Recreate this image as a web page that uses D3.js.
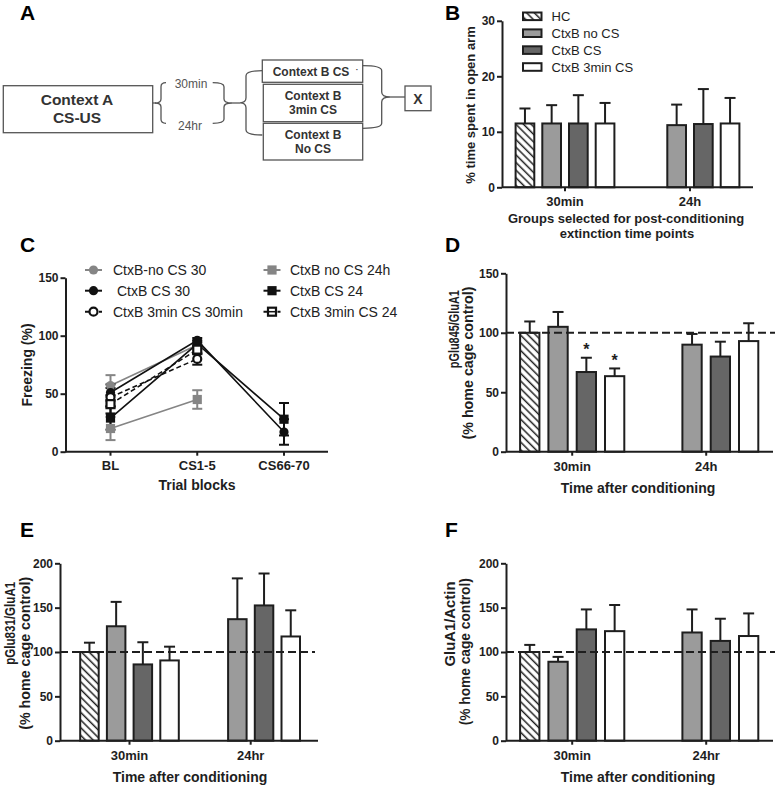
<!DOCTYPE html>
<html><head><meta charset="utf-8">
<script src="https://cdn.jsdelivr.net/npm/d3@7"></script>
<style>
body{margin:0;background:#fff}
svg{display:block}
text{font-family:"Liberation Sans",Arial,Helvetica,sans-serif}
</style>
</head><body>
<svg id="fig" width="775" height="785"></svg>
<script>
// ---------------- DATA ----------------
const seriesNames = ["HC", "CtxB no CS", "CtxB CS", "CtxB 3min CS"];

// Panel B: % time spent in open arm
const groupsB = ["30min", "24h"];
const openArmMean = [[11.5, 11.5, 11.5, 11.5], [null, 11.2, 11.4, 11.5]];
const openArmSem  = [[2.7, 3.3, 5.1, 3.7], [null, 3.7, 6.3, 4.6]];

// Panel C: freezing over trial blocks
const trialBlocks = ["BL", "CS1-5", "CS66-70"];
const freezeNames = ["CtxB-no CS 30", " CtxB CS 30", "CtxB 3min CS 30min", "CtxB no CS 24h", "CtxB CS 24", "CtxB 3min CS 24"];
const freezeNoCS30  = [57, 92, null];
const freezeCS30    = [51, 96, 17];
const freeze3min30  = [47, 80, null];
const freezeNoCS24  = [20, 45, null];
const freezeCS24    = [29, 93, 28];
const freeze3min24  = [41, 88, null];
const semNoCS30 = [9, 3, null];
const semCS30   = [7, 2, 11];
const sem3min30 = [8, 5, null];
const semNoCS24 = [10, 8, null];
const semCS24   = [10, 3, 14];
const sem3min24 = [8, 4, null];

// Panel D: pGlu845/GluA1
const groupsD = ["30min", "24h"];
const pGlu845Mean = [[100, 105, 67, 63.5], [null, 90, 80, 93]];
const pGlu845Sem  = [[9.5, 12.5, 12, 6.5], [null, 9, 12.5, 15]];
const pGlu845Stars = [[false, false, true, true], [false, false, false, false]];

// Panel E: pGlu831/GluA1
const groupsE = ["30min", "24hr"];
const pGlu831Mean = [[100, 129, 86, 90.5], [null, 137, 152.5, 117.5]];
const pGlu831Sem  = [[10.5, 27.5, 25, 15.5], [null, 46, 36, 29.5]];

// Panel F: GluA1/Actin
const groupsF = ["30min", "24hr"];
const gluA1Mean = [[100, 89, 125.5, 123.5], [null, 122, 112.5, 118]];
const gluA1Sem  = [[8, 5.5, 22.5, 29.5], [null, 26, 25, 25.5]];

// ---------------- DRAW ----------------
const svg = d3.select("#fig");
const INK = "#1e1e1e";

const defs = svg.append("defs");
const pat = defs.append("pattern").attr("id", "hatch").attr("patternUnits", "userSpaceOnUse")
  .attr("width", 5.4).attr("height", 5.4).attr("patternTransform", "rotate(-45)");
pat.append("rect").attr("width", 5.4).attr("height", 5.4).attr("fill", "#fff");
pat.append("line").attr("x1", 1.5).attr("y1", 0).attr("x2", 1.5).attr("y2", 5.4)
  .attr("stroke", INK).attr("stroke-width", 1.5);

const fillFor = {"HC": "url(#hatch)", "CtxB no CS": "#9b9b9b", "CtxB CS": "#666666", "CtxB 3min CS": "#ffffff"};

function txt(g, x, y, s, size, opts = {}) {
  const t = g.append("text").attr("x", x).attr("y", y)
    .attr("text-anchor", opts.anchor || "middle")
    .attr("dominant-baseline", opts.baseline || "central")
    .style("font-size", size + "px")
    .style("font-weight", opts.weight || "bold")
    .attr("fill", opts.fill || INK)
    .text(s);
  if (opts.pre) t.attr("xml:space", "preserve").style("white-space", "pre");
  return t;
}
function vtxt(g, x, y, s, size, len) {
  const t = g.append("text").attr("transform", `translate(${x},${y}) rotate(-90)`)
    .attr("text-anchor", "middle").attr("dominant-baseline", "central")
    .style("font-size", size + "px").style("font-weight", "bold").attr("fill", INK).text(s);
  if (len) t.attr("textLength", len).attr("lengthAdjust", "spacingAndGlyphs");
  return t;
}
function styleYAxis(ax) {
  ax.select(".domain").attr("stroke", INK).attr("stroke-width", 2);
  ax.selectAll(".tick line").attr("stroke", INK).attr("stroke-width", 2);
  ax.selectAll(".tick text").style("font-size", "12px").style("font-weight", "bold").attr("fill", INK)
    .style("font-family", '"Liberation Sans",Arial,sans-serif');
}

// panel letters
[["A", 20, 20], ["B", 445, 20], ["C", 20, 252], ["D", 445, 252], ["E", 20, 537], ["F", 445, 537]]
  .forEach(([l, x, y]) => txt(svg, x, y, l, 21, {anchor: "start", baseline: "alphabetic", fill: "#000"}));

// ---------- Panel A: diagram ----------
(function () {
  const g = svg.append("g");
  const ST = "#555", SW = 1.3;
  function box(x0, y0, x1, y1) {
    g.append("rect").attr("x", x0).attr("y", y0).attr("width", x1 - x0).attr("height", y1 - y0)
      .attr("fill", "#fff").attr("stroke", ST).attr("stroke-width", SW);
  }
  function brace(xEnd, xV, xTip, yT, yB, r) {
    const ym = (yT + yB) / 2;
    g.append("path").attr("fill", "none").attr("stroke", ST).attr("stroke-width", SW)
      .attr("d", `M${xEnd},${yT} Q${xV},${yT} ${xV},${yT + r} V${ym - r} Q${xV},${ym} ${xTip},${ym} Q${xV},${ym} ${xV},${ym + r} V${yB - r} Q${xV},${yB} ${xEnd},${yB}`);
  }
  function line(x0, y0, x1, y1) {
    g.append("line").attr("x1", x0).attr("y1", y0).attr("x2", x1).attr("y2", y1)
      .attr("stroke", ST).attr("stroke-width", SW);
  }
  box(3.3, 85.7, 152.7, 132.7);
  txt(g, 77, 99.5, "Context A", 15.5, {fill: "#333"});
  txt(g, 77, 117.5, "CS-US", 15.5, {fill: "#333"});
  line(152.7, 103, 156, 103);
  brace(166, 161, 155, 82.7, 123.3, 4);
  txt(g, 191, 83.5, "30min", 12, {weight: "normal", fill: "#555"});
  txt(g, 190, 125.5, "24hr", 12, {weight: "normal", fill: "#555"});
  brace(212.7, 224, 232, 82.7, 123.3, 4);
  line(232, 103, 240, 103);
  brace(262.3, 246, 240, 70.7, 135, 5);
  box(262.3, 60, 362.7, 82.3);
  box(263.3, 84.3, 362.7, 121.7);
  box(263.3, 123.3, 362.7, 160);
  txt(g, 311, 71.5, "Context B CS", 12, {fill: "#333"});
  txt(g, 357, 69, "·", 8, {fill: "#333"});
  txt(g, 313, 96, "Context B", 12, {fill: "#333"});
  txt(g, 313, 110, "3min CS", 12, {fill: "#333"});
  txt(g, 313, 135, "Context B", 12, {fill: "#333"});
  txt(g, 313, 148.5, "No CS", 12, {fill: "#333"});
  brace(362.7, 381.7, 390, 65.7, 128.3, 5);
  line(390, 97, 405, 97);
  box(405, 86, 431, 110.7);
  txt(g, 418, 98.5, "X", 14, {weight: "600", fill: "#333"});
})();

// ---------- generic bar panel ----------
function barPanel(o) {
  const g = svg.append("g");
  const y = d3.scaleLinear().domain([0, o.yMax]).range([o.yBottom, o.yTop]);
  const xg = d3.scalePoint().domain(o.groups).range(o.centers);
  const pin = 1 - o.bw / o.pitch;
  const xs = d3.scaleBand().domain(seriesNames).range([-2 * o.pitch, 2 * o.pitch])
    .paddingInner(pin).paddingOuter(pin / 2);
  const rows = [];
  o.groups.forEach((grp, gi) => o.values[gi].forEach((v, si) => {
    if (v != null) rows.push({grp, s: seriesNames[si], v, e: o.errors[gi][si],
      star: o.stars ? o.stars[gi][si] : false});
  }));
  const bx = d => xg(d.grp) + xs(d.s);
  const cx = d => bx(d) + xs.bandwidth() / 2;

  const eb = g.append("g").attr("stroke", INK).attr("stroke-width", 2);
  eb.selectAll("line.v").data(rows).join("line")
    .attr("x1", cx).attr("x2", cx).attr("y1", d => y(d.v)).attr("y2", d => y(d.v + d.e));
  eb.selectAll("line.c").data(rows).join("line")
    .attr("x1", d => cx(d) - 5.5).attr("x2", d => cx(d) + 5.5)
    .attr("y1", d => y(d.v + d.e)).attr("y2", d => y(d.v + d.e));
  g.append("g").selectAll("rect").data(rows).join("rect")
    .attr("x", bx).attr("width", xs.bandwidth())
    .attr("y", d => y(d.v)).attr("height", d => y(0) - y(d.v))
    .attr("fill", d => fillFor[d.s]).attr("stroke", INK).attr("stroke-width", 2);
  g.append("g").selectAll("text").data(rows.filter(d => d.star)).join("text")
    .attr("x", cx).attr("y", d => y(d.v + d.e) - 8)
    .attr("text-anchor", "middle").attr("dominant-baseline", "central")
    .style("font-size", "16px").style("font-weight", "bold").attr("fill", INK).text("*");
  if (o.refEnd) {
    g.append("line").attr("x1", o.xLeft).attr("x2", o.refEnd).attr("y1", y(100)).attr("y2", y(100))
      .attr("stroke", INK).attr("stroke-width", 2).attr("stroke-dasharray", "8,4");
  }
  g.append("line").attr("x1", o.xLeft).attr("x2", o.xRight).attr("y1", y(0)).attr("y2", y(0))
    .attr("stroke", INK).attr("stroke-width", 2);
  g.append("g").selectAll("line").data(o.groups).join("line")
    .attr("x1", d => xg(d)).attr("x2", d => xg(d)).attr("y1", y(0)).attr("y2", y(0) + 4)
    .attr("stroke", INK).attr("stroke-width", 2);
  g.append("g").selectAll("text").data(o.groups).join("text")
    .attr("x", d => xg(d)).attr("y", o.tickLabelY)
    .attr("text-anchor", "middle").attr("dominant-baseline", "central")
    .style("font-size", "13px").style("font-weight", "bold").attr("fill", INK).text(d => d);
  const ax = g.append("g").attr("transform", `translate(${o.xLeft},0)`)
    .call(d3.axisLeft(y).tickValues(o.yTicks).tickFormat(d3.format("d")).tickSize(5).tickSizeOuter(0).tickPadding(2));
  styleYAxis(ax);
  return {g, y, xg, xs};
}

// ---------- Panel B ----------
(function () {
  barPanel({groups: groupsB, values: openArmMean, errors: openArmSem,
    xLeft: 502, xRight: 753, yBottom: 187.3, yTop: 20.8, yMax: 30, yTicks: [0, 10, 20, 30],
    centers: [565, 690], pitch: 26.7, bw: 18.7, tickLabelY: 201.5});
  vtxt(svg, 470, 105, "% time spent in open arm", 13);
  txt(svg, 626, 218.5, "Groups selected for post-conditioning", 13);
  txt(svg, 627, 233, "extinction time points", 13);
  const lg = svg.append("g");
  seriesNames.forEach((s, i) => {
    const yc = 16.3 + i * 16.9;
    lg.append("rect").attr("x", 523).attr("y", yc - 3.8).attr("width", 18.5).attr("height", 7.6)
      .attr("fill", fillFor[s]).attr("stroke", INK).attr("stroke-width", 2);
    txt(lg, 551.5, yc, s, 13, {anchor: "start", weight: "normal"});
  });
})();

// ---------- Panel C ----------
(function () {
  const g = svg.append("g");
  const y = d3.scaleLinear().domain([0, 150]).range([451.7, 277.7]);
  const x = d3.scalePoint().domain(trialBlocks).range([110.5, 284]);
  const GRAY = "#858585", BLK = "#111";
  const series = [
    {name: freezeNames[0], v: freezeNoCS30, e: semNoCS30, color: GRAY, shape: "circle", open: false, dash: null},
    {name: freezeNames[1], v: freezeCS30, e: semCS30, color: BLK, shape: "circle", open: false, dash: null},
    {name: freezeNames[2], v: freeze3min30, e: sem3min30, color: BLK, shape: "circle", open: true, dash: "5,3"},
    {name: freezeNames[3], v: freezeNoCS24, e: semNoCS24, color: GRAY, shape: "square", open: false, dash: null},
    {name: freezeNames[4], v: freezeCS24, e: semCS24, color: BLK, shape: "square", open: false, dash: null},
    {name: freezeNames[5], v: freeze3min24, e: sem3min24, color: BLK, shape: "square", open: true, dash: "5,3"}
  ];
  const line = d3.line().defined(d => d.v != null).x(d => x(d.b)).y(d => y(d.v));
  const pts = s => trialBlocks.map((b, i) => ({b, v: s.v[i], e: s.e[i]}));
  series.forEach(s => {
    g.append("path").datum(pts(s)).attr("d", line).attr("fill", "none")
      .attr("stroke", s.color).attr("stroke-width", 1.6).attr("stroke-dasharray", s.dash);
  });
  series.forEach(s => {
    const d = pts(s).filter(p => p.v != null);
    const eg = g.append("g").attr("stroke", s.color).attr("stroke-width", 2);
    eg.selectAll("line.v").data(d).join("line").attr("x1", p => x(p.b)).attr("x2", p => x(p.b))
      .attr("y1", p => y(p.v - p.e)).attr("y2", p => y(p.v + p.e));
    [-1, 1].forEach(sg => eg.selectAll("line.c" + sg).data(d).join("line")
      .attr("x1", p => x(p.b) - 5).attr("x2", p => x(p.b) + 5)
      .attr("y1", p => y(p.v + sg * p.e)).attr("y2", p => y(p.v + sg * p.e)));
  });
  function marker(sel, s, cx, cy) {
    if (s.shape === "circle") {
      sel.append("circle").attr("cx", cx).attr("cy", cy).attr("r", s.open ? 4 : 4.6)
        .attr("fill", s.open ? "#fff" : s.color).attr("stroke", s.color).attr("stroke-width", s.open ? 2.2 : 0);
    } else {
      const h = s.open ? 4 : 4.6;
      sel.append("rect").attr("x", cx - h).attr("y", cy - h).attr("width", 2 * h).attr("height", 2 * h)
        .attr("fill", s.open ? "#fff" : s.color).attr("stroke", s.color).attr("stroke-width", s.open ? 2.2 : 0);
    }
  }
  series.forEach(s => pts(s).filter(p => p.v != null).forEach(p => marker(g, s, x(p.b), y(p.v))));

  g.append("line").attr("x1", 65).attr("x2", 328).attr("y1", y(0)).attr("y2", y(0))
    .attr("stroke", INK).attr("stroke-width", 2);
  g.append("g").selectAll("line").data(trialBlocks).join("line")
    .attr("x1", d => x(d)).attr("x2", d => x(d)).attr("y1", y(0)).attr("y2", y(0) + 4)
    .attr("stroke", INK).attr("stroke-width", 2);
  g.append("g").selectAll("text").data(trialBlocks).join("text")
    .attr("x", d => x(d)).attr("y", 465).attr("text-anchor", "middle").attr("dominant-baseline", "central")
    .style("font-size", "13px").style("font-weight", "bold").attr("fill", INK).text(d => d);
  const ax = g.append("g").attr("transform", "translate(65.5,0)")
    .call(d3.axisLeft(y).tickValues([0, 50, 100, 150]).tickSize(5).tickSizeOuter(0).tickPadding(2));
  styleYAxis(ax);
  vtxt(svg, 27, 365, "Freezing (%)", 14);
  txt(svg, 197, 484.5, "Trial blocks", 14);

  const lg = svg.append("g");
  const pos = [[85, 270], [85, 290.7], [85, 311.7], [263.5, 270], [263.5, 290.7], [263.5, 311.7]];
  series.forEach((s, i) => {
    const [lx, ly] = pos[i];
    lg.append("line").attr("x1", lx).attr("x2", lx + 17).attr("y1", ly).attr("y2", ly)
      .attr("stroke", s.color).attr("stroke-width", 2).attr("stroke-dasharray", s.dash ? "4,3" : null);
    marker(lg, s, lx + 8.5, ly);
    if (s.open && s.shape === "square") {
      lg.append("line").attr("x1", lx + 5).attr("x2", lx + 12).attr("y1", ly).attr("y2", ly)
        .attr("stroke", s.color).attr("stroke-width", 1.5);
    }
    txt(lg, lx + (i < 3 ? 28 : 26.5), ly, s.name, 14, {anchor: "start", weight: "normal", fill: "#222", pre: true});
  });
})();

// ---------- Panel D ----------
barPanel({groups: groupsD, values: pGlu845Mean, errors: pGlu845Sem, stars: pGlu845Stars,
  xLeft: 506, xRight: 773, yBottom: 451.7, yTop: 273.3, yMax: 150, yTicks: [0, 50, 100, 150],
  centers: [572.2, 706.2], pitch: 28.3, bw: 19.3, tickLabelY: 466.7, refEnd: 775});
vtxt(svg, 454, 329.2, "pGlu845/GluA1", 14, 78);
vtxt(svg, 468, 363, "(% home cage control)", 14, 153);
txt(svg, 638, 488.3, "Time after conditioning", 14);

// ---------- Panel E ----------
barPanel({groups: groupsE, values: pGlu831Mean, errors: pGlu831Sem,
  xLeft: 60, xRight: 318, yBottom: 740.7, yTop: 563.3, yMax: 200, yTicks: [0, 50, 100, 150, 200],
  centers: [129.5, 250.7], pitch: 26.7, bw: 18.5, tickLabelY: 755, refEnd: 315});
vtxt(svg, 10, 623.3, "pGlu831/GluA1", 14, 83);
vtxt(svg, 25, 653.3, "(% home cage control)", 14, 153);
txt(svg, 190, 776.7, "Time after conditioning", 14);

// ---------- Panel F ----------
barPanel({groups: groupsF, values: gluA1Mean, errors: gluA1Sem,
  xLeft: 506, xRight: 773, yBottom: 740.7, yTop: 563.3, yMax: 200, yTicks: [0, 50, 100, 150, 200],
  centers: [572.2, 706.2], pitch: 28.3, bw: 19.3, tickLabelY: 755, refEnd: 775});
vtxt(svg, 450, 624, "GluA1/Actin", 14, 85);
vtxt(svg, 465, 651.7, "(% home cage control)", 14, 147);
txt(svg, 638, 776.7, "Time after conditioning", 14);
</script>
</body></html>
